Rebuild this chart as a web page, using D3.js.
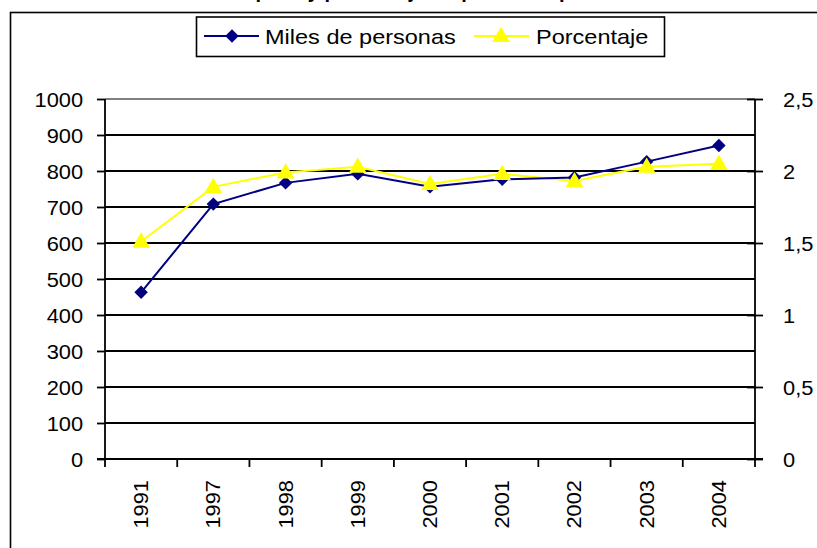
<!DOCTYPE html>
<html>
<head>
<meta charset="utf-8">
<script src="https://cdn.jsdelivr.net/npm/d3@7"></script>
<style>
  html, body { margin: 0; background: #fff; overflow: hidden; }
  svg { display: block; }
  text { font-family: "Liberation Sans", Arial, sans-serif; }
</style>
</head>
<body>
<div id="chart"></div>
<script>
var width = 817;
var height = 548;

var years = ['1991', '1997', '1998', '1999', '2000', '2001', '2002', '2003', '2004'];
var miles = [463, 708, 767, 792, 756, 777, 782, 826, 871];
var porcentaje = [1.51, 1.89, 1.99, 2.03, 1.91, 1.98, 1.93, 2.03, 2.05];
var leftTicks = [0, 100, 200, 300, 400, 500, 600, 700, 800, 900, 1000];
var rightTicks = [0, 0.5, 1, 1.5, 2, 2.5];

var navy = '#000080';
var yellow = '#ffff00';
var stretch = 'scale(1.12,1)';   // the reference font is a bit wider than Liberation Sans

var svg = d3.select('#chart').append('svg').attr('width', width).attr('height', height);

// title, mostly cut off at the top of the picture
svg.append('text').attr('x', 410).attr('y', -2.5)
   .attr('text-anchor', 'middle').attr('font-size', 20).attr('font-weight', 'bold')
   .text('Población ocupada y porcentaje respecto a la población total');

// outer chart frame (its right and bottom sides fall outside the picture)
svg.append('rect').attr('x', 10.5).attr('y', 12.5).attr('width', 900).attr('height', 600)
   .attr('fill', 'none').attr('stroke', '#000').attr('stroke-width', 1.6);

var pLeft = 105, pRight = 755, pTop = 99, pBottom = 459;

var x = d3.scaleBand().domain(years).range([pLeft, pRight]);
var y = d3.scaleLinear().domain([0, 1000]).range([pBottom, pTop]);
var y2 = d3.scaleLinear().domain([0, 2.5]).range([pBottom, pTop]);

// gridlines
svg.append('g').selectAll('line').data(leftTicks.slice(1)).enter().append('line')
   .attr('x1', pLeft).attr('x2', pRight)
   .attr('y1', function(d){ return y(d); }).attr('y2', function(d){ return y(d); })
   .attr('stroke', function(d){ return d === 1000 ? '#808080' : '#000'; })
   .attr('stroke-width', 1.8);

// left axis
var yAxis = svg.append('g').attr('transform', 'translate(' + pLeft + ',0)')
   .call(d3.axisLeft(y).tickValues(leftTicks).tickSize(8).tickPadding(11.6)
   .tickFormat(function(d){ return String(d); }));

// right axis, ticks cross the axis line
var yAxis2 = svg.append('g').attr('transform', 'translate(' + pRight + ',0)')
   .call(d3.axisRight(y2).tickValues(rightTicks).tickSize(8).tickPadding(17)
   .tickFormat(function(d){ return String(d).replace('.', ','); }));
yAxis2.selectAll('.tick line').attr('x1', -8);

// bottom axis, ticks at band edges
var xAxis = svg.append('g').attr('transform', 'translate(0,' + pBottom + ')');
xAxis.append('line').attr('x1', pLeft - 8).attr('x2', pRight + 8).attr('stroke', '#000').attr('stroke-width', 1.8);
var edges = years.map(function(d){ return x(d); }).concat([pRight]);
xAxis.selectAll('.xt').data(edges).enter().append('line')
   .attr('x1', function(d){ return d; }).attr('x2', function(d){ return d; })
   .attr('y1', 0).attr('y2', 8).attr('stroke', '#000').attr('stroke-width', 1.8);
xAxis.selectAll('.xl').data(years).enter().append('text')
   .attr('transform', function(d){
      return 'translate(' + (x(d) + x.bandwidth() / 2 + 7) + ',21) rotate(-90) ' + stretch;
   })
   .attr('text-anchor', 'end').attr('font-size', 19.5).attr('fill', '#000')
   .text(function(d){ return d; });

[yAxis, yAxis2].forEach(function(g){
  g.select('.domain').attr('stroke', '#000').attr('stroke-width', 1.8);
  g.selectAll('.tick line').attr('stroke', '#000').attr('stroke-width', 1.8);
  g.selectAll('.tick text').attr('font-size', 19.5).attr('fill', '#000')
   .attr('dy', '0.36em').attr('transform', stretch)
   .attr('font-family', '"Liberation Sans", Arial, sans-serif');
});
yAxis.select('.domain').attr('d', 'M0,' + pTop + 'V' + pBottom);
yAxis2.select('.domain').attr('d', 'M0,' + pTop + 'V' + pBottom);

function cx(d, i){ return x(years[i]) + x.bandwidth() / 2; }

var diamond = d3.symbol().type(d3.symbolDiamond2).size(115);
var triangle = d3.symbol().type(d3.symbolTriangle).size(135);

// Porcentaje line
svg.append('path').datum(porcentaje)
   .attr('d', d3.line().x(cx).y(function(d){ return y2(d); }))
   .attr('fill', 'none').attr('stroke', yellow).attr('stroke-width', 2);

// Miles de personas line
svg.append('path').datum(miles)
   .attr('d', d3.line().x(cx).y(function(d){ return y(d); }))
   .attr('fill', 'none').attr('stroke', navy).attr('stroke-width', 2);

svg.append('g').selectAll('path').data(miles).enter().append('path')
   .attr('d', diamond)
   .attr('transform', function(d, i){ return 'translate(' + cx(d, i) + ',' + y(d) + ')'; })
   .attr('fill', navy);

svg.append('g').selectAll('path').data(porcentaje).enter().append('path')
   .attr('d', triangle)
   .attr('transform', function(d, i){ return 'translate(' + cx(d, i) + ',' + (y2(d) + 1) + ')'; })
   .attr('fill', yellow);

// legend
var legend = svg.append('g');
legend.append('rect').attr('x', 196.5).attr('y', 17).attr('width', 468).attr('height', 39.5)
   .attr('fill', '#fff').attr('stroke', '#000').attr('stroke-width', 1.6);
legend.append('line').attr('x1', 204).attr('x2', 259).attr('y1', 36).attr('y2', 36)
   .attr('stroke', navy).attr('stroke-width', 2);
legend.append('path').attr('d', diamond).attr('transform', 'translate(232,36)').attr('fill', navy);
legend.append('text').attr('transform', 'translate(265,43.5) ' + stretch)
   .attr('font-size', 21).text('Miles de personas');
legend.append('line').attr('x1', 474).attr('x2', 529).attr('y1', 36).attr('y2', 36)
   .attr('stroke', yellow).attr('stroke-width', 2);
legend.append('path').attr('d', triangle).attr('transform', 'translate(501,37)').attr('fill', yellow);
legend.append('text').attr('transform', 'translate(536,43.5) ' + stretch)
   .attr('font-size', 21).text('Porcentaje');
</script>
</body>
</html>
